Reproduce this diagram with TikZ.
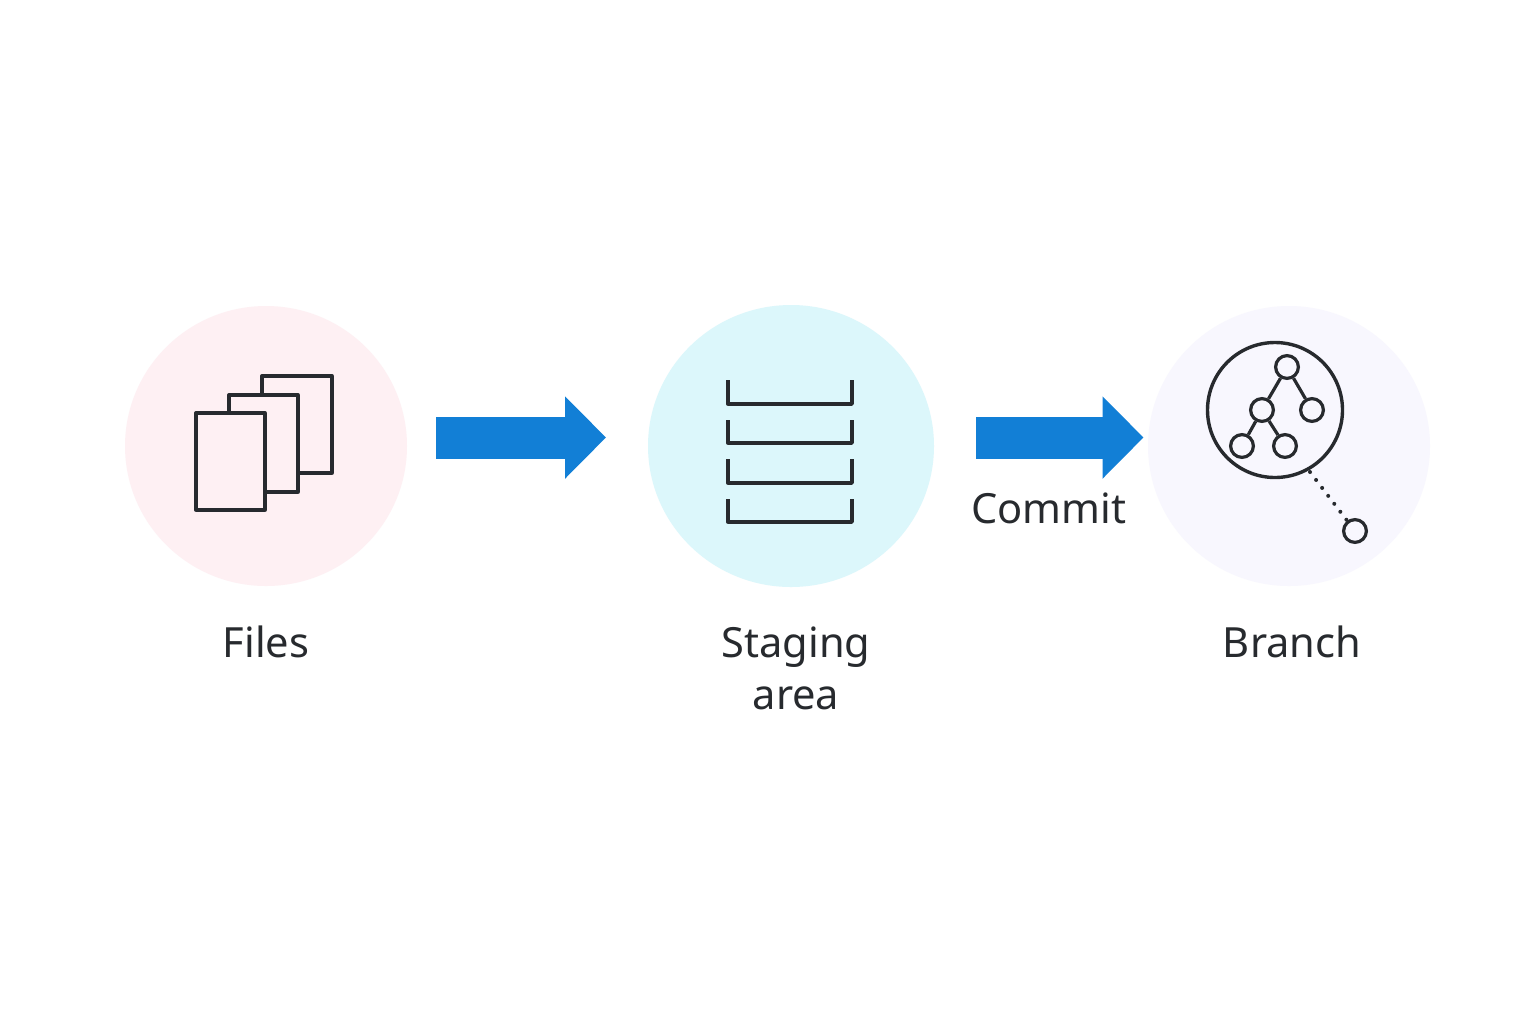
\documentclass[tikz,border=0pt]{standalone}
\usepackage{fontspec}
\setmainfont{Noto Sans}
\usetikzlibrary{arrows.meta,shapes.geometric}
\definecolor{ink}{HTML}{272A2E}
\definecolor{flow}{HTML}{127FD6}
\definecolor{pinkbg}{HTML}{FEF0F3}
\definecolor{cyanbg}{HTML}{DCF7FB}
\definecolor{lilacbg}{HTML}{F8F7FE}
\tikzset{
  x=0.5pt,y=-0.5pt,
  disc/.style n args={2}{ellipse,inner sep=0pt,minimum width=#1*0.5pt,minimum height=#2*0.5pt},
  icon/.style={draw=ink,line width=1.65pt,line join=round},
  sheet/.style={icon,fill=pinkbg},
  treeknot/.style={circle,draw=ink,line width=1.6pt,inner sep=0pt,minimum size=11.4pt},
  treeedge/.style={draw=ink,line width=1.6pt},
  bigarrow/.style={draw=flow,line width=21pt,-{Triangle[length=20.5pt,width=40pt]}},
  caption/.style={text=ink,font=\fontsize{20.8pt}{26pt}\selectfont,align=center,inner sep=0pt},
}
\begin{document}
\begin{tikzpicture}
\useasboundingbox (0,0) rectangle (1536,1024);
\fill[white] (0,0) rectangle (1536,1024);
% background discs
\node[disc={282}{280},fill=pinkbg] (filesdisc) at (266,446) {};
\node[disc={286}{282},fill=cyanbg] (stagedisc) at (791,446) {};
\node[disc={282}{280},fill=lilacbg] (branchdisc) at (1289,446) {};
% flow arrows
\coordinate (a1s) at (436,437.5);
\coordinate (a1e) at (606,437.5);
\coordinate (a2s) at (976,437.5);
\coordinate (a2e) at (1143.5,437.5);
\draw[bigarrow] (a1s) -- (a1e);
\draw[bigarrow] (a2s) -- (a2e);
% files icon
\draw[sheet] (262,376) rectangle (332,473);
\draw[sheet] (229,395) rectangle (298,492);
\draw[sheet] (196,413) rectangle (265,510);
% staging icon
\foreach \t/\b in {380/404,420/443,459/483,499/522}{
  \draw[icon] (728,\t) -- (728,\b) -- (852,\b) -- (852,\t);
}
% branch icon
\node[circle,draw=ink,line width=1.7pt,inner sep=0pt,minimum size=67.5pt] (lens) at (1275,410) {};
\node[treeknot] (root) at (1287,367) {};
\node[treeknot] (mid) at (1262,410) {};
\node[treeknot] (right) at (1312,410) {};
\node[treeknot] (ll) at (1242,446) {};
\node[treeknot] (lr) at (1285,446) {};
\node[treeknot] (far) at (1355,531) {};
\draw[treeedge] (root) -- (mid);
\draw[treeedge] (root) -- (right);
\draw[treeedge] (mid) -- (ll);
\draw[treeedge] (mid) -- (lr);
\coordinate (dotstart) at (1310,472);
\draw[draw=ink,line width=2pt,line cap=round,dash pattern=on 0pt off 5pt] (dotstart) -- (far);
% labels
\node[caption] (fileslabel) at (266,642) {Files};
\node[caption] (stagelabel) at (796,668) {Staging\\area};
\node[caption] (branchlabel) at (1292,642) {Branch};
\node[caption] (commitlabel) at (1049,508) {Commit};
\end{tikzpicture}
\end{document}
